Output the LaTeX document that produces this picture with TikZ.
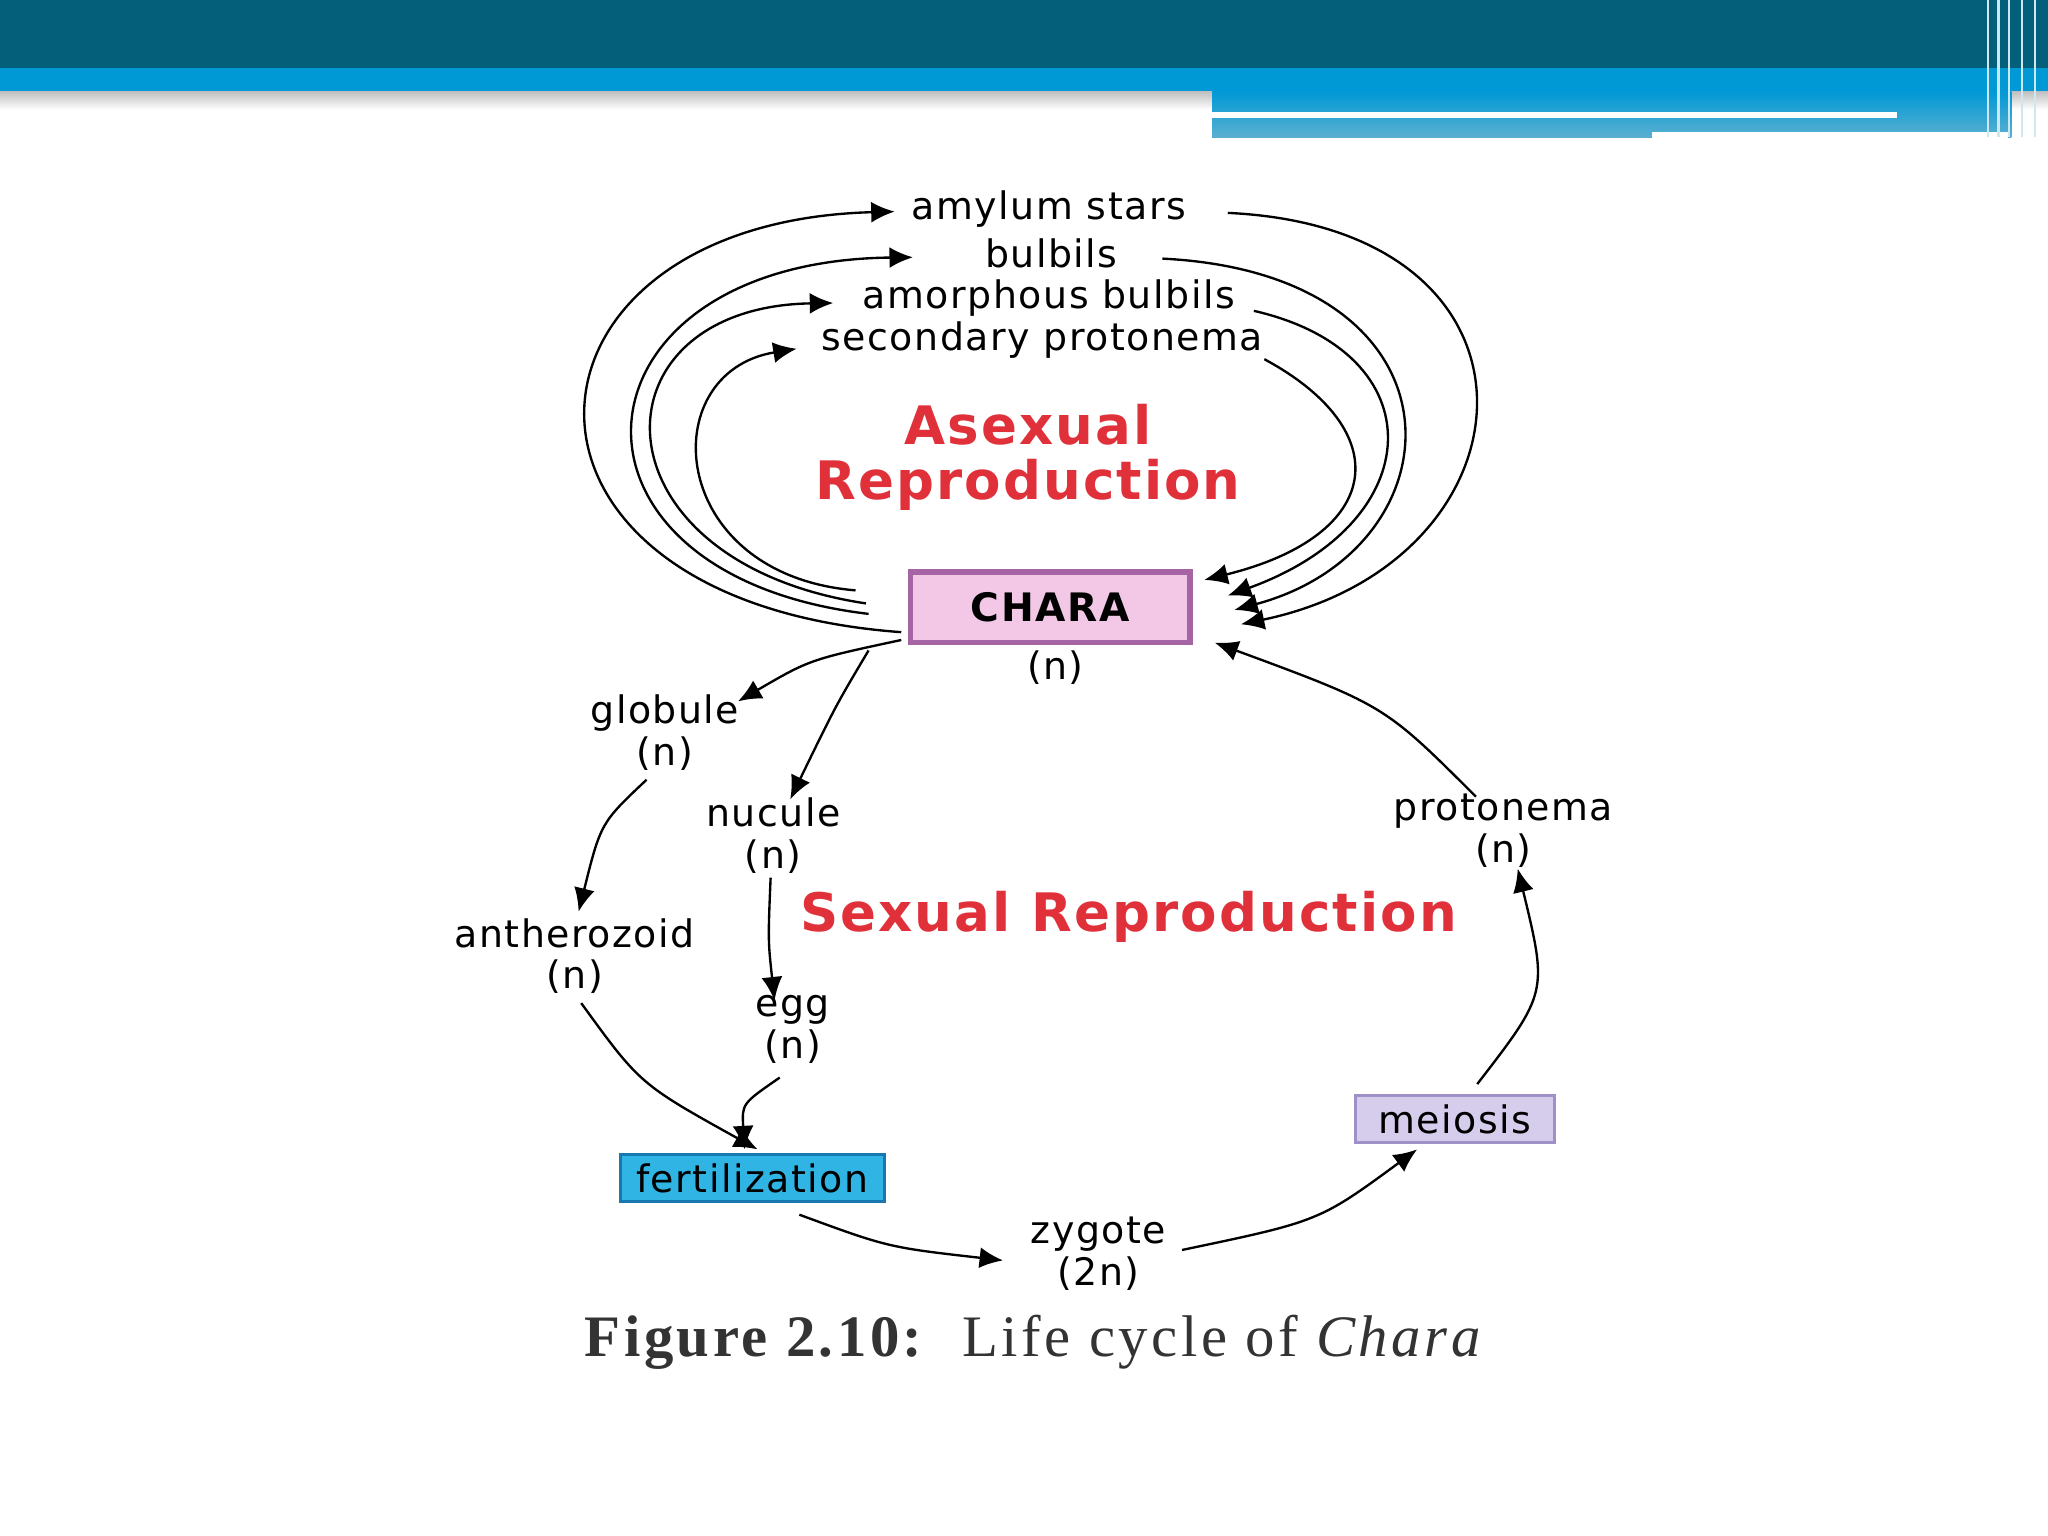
\documentclass[tikz,border=0pt]{standalone}
\usepackage{fontspec}
\setmainfont{DejaVu Sans}[LetterSpace=4]
\newfontfamily\capfont{Liberation Serif}[LetterSpace=6]
\usetikzlibrary{arrows.meta}
\definecolor{dark}{HTML}{04607A}
\definecolor{lblue}{HTML}{0099D6}
\definecolor{mblue}{HTML}{5AAFD0}
\definecolor{redt}{HTML}{E0303A}
\definecolor{chfill}{HTML}{F2C8E6}
\definecolor{chdraw}{HTML}{A565A5}
\definecolor{fefill}{HTML}{30B4E4}
\definecolor{fedraw}{HTML}{1A78B0}
\definecolor{mefill}{HTML}{D6CCEC}
\definecolor{medraw}{HTML}{A090C8}
\tikzset{
 lbl/.style={font=\fontsize{14.5}{16}\selectfont, inner sep=1pt},
 ttl/.style={font=\fontsize{20.3}{23}\selectfont\bfseries, text=redt, align=center},
 arr/.style={-{Latex[length=9pt,width=8pt]}, line width=0.9pt},
}
\begin{document}
\begin{tikzpicture}[x=0.5pt,y=-0.5pt]
\useasboundingbox (0,0) rectangle (1568,1176);
% header
\shade[top color=gray!50, bottom color=white] (0,70) rectangle (1568,84);
\fill[dark] (0,0) rectangle (1568,52);
\fill[lblue] (0,52) rectangle (1568,70);
\shade[top color=lblue, bottom color=mblue] (928,70) rectangle (1540,105);
\fill[white] (928,86) rectangle (1452,90);
\fill[white] (1265,101) rectangle (1537,106);
\foreach \x in {1522,1530,1538,1548,1558}{\draw[white!70!mblue,line width=1pt] (\x,0) -- (\x,105);}
% nodes
\node[lbl] (am) at (803,160) {amylum stars};
\node[lbl] (bu) at (805,194) {bulbils};
\node[lbl] (ab) at (803,228) {amorphous bulbils};
\node[lbl] (sp) at (798,260) {secondary protonema};
\node[ttl] (asx) at (787,350) {Asexual\\[-2pt]Reproduction};
\node[draw=chdraw, fill=chfill, line width=2.2pt, minimum width=107pt, minimum height=27pt, font=\fontsize{15}{16}\selectfont\bfseries] (ch) at (804,465) {CHARA\hspace{1.5em}};
\node[lbl] (chn) at (808,511) {(n)};
\node[lbl,align=center] (gl) at (509,561) {globule\\(n)};
\node[lbl,align=center] (nu) at (592,640) {nucule\\(n)};
\node[lbl,align=center] (an) at (440,732) {antherozoid\\(n)};
\node[lbl,align=center] (eg) at (607,788) {egg\\(n)};
\node[lbl,align=center] (zy) at (841,960) {zygote\\(2n)};
\node[lbl,align=center] (pr) at (1151,636) {protonema\\(n)};
\node[ttl] (sx) at (864,702) {Sexual Reproduction};
\node[draw=fedraw, fill=fefill, line width=1.2pt, minimum width=101pt, minimum height=18pt, font=\fontsize{14.5}{16}\selectfont] (fe) at (576,902) {fertilization};
\node[draw=medraw, fill=mefill, line width=1.2pt, minimum width=76pt, minimum height=18pt, font=\fontsize{14.5}{16}\selectfont] (me) at (1114,857) {meiosis};
\node[font=\capfont\fontsize{22.5}{25}\selectfont, text=black!80] (cap) at (792,1028) {\textbf{Figure 2.10:}\ \ Life cycle of \textit{Chara}};
% coordinates
\coordinate (l1) at (690,484); \coordinate (l2) at (665,470); \coordinate (l3) at (663,462); \coordinate (l4) at (655,452);
\coordinate (r1) at (950,478); \coordinate (r2) at (945,467); \coordinate (r3) at (940,456); \coordinate (r4) at (922,444);
\coordinate (a1) at (685,162); \coordinate (a2) at (699,197); \coordinate (a3) at (638,232); \coordinate (a4) at (610,267);
\coordinate (b1) at (940,163); \coordinate (b2) at (890,198); \coordinate (b3) at (960,238); \coordinate (b4) at (968,275);
\draw[arr] (l1) .. controls (360,460) and (380,170) .. (a1);
\draw[arr] (l2) .. controls (410,440) and (430,200) .. (a2);
\draw[arr] (l3) .. controls (450,430) and (450,235) .. (a3);
\draw[arr] (l4) .. controls (510,440) and (500,285) .. (a4);
\draw[arr] (b1) .. controls (1200,175) and (1180,430) .. (r1);
\draw[arr] (b2) .. controls (1130,210) and (1120,420) .. (r2);
\draw[arr] (b3) .. controls (1100,270) and (1095,400) .. (r3);
\draw[arr] (b4) .. controls (1070,330) and (1060,410) .. (r4);
% sexual
\coordinate (c1) at (690,490); \coordinate (g1) at (565,537);
\coordinate (c2) at (665,498); \coordinate (n1) at (605,612);
\coordinate (g2) at (495,597); \coordinate (t1) at (443,698);
\coordinate (n2) at (590,672); \coordinate (e1) at (593,766);
\coordinate (t2) at (445,768); \coordinate (f1) at (580,880);
\coordinate (e2) at (597,825); \coordinate (f2) at (570,880);
\coordinate (f3) at (612,930); \coordinate (z1) at (768,965);
\coordinate (z2) at (905,957); \coordinate (m1) at (1085,880);
\coordinate (m2) at (1131,830); \coordinate (p1) at (1162,665);
\coordinate (p2) at (1130,610); \coordinate (c3) at (930,492);
\draw[arr] (c1) .. controls (620,505) .. (g1);
\draw[arr] (c2) .. controls (640,540) .. (n1);
\draw[arr] (g2) .. controls (460,630) .. (t1);
\draw[arr] (n2) .. controls (588,720) .. (e1);
\draw[arr] (t2) .. controls (490,830) .. (f1);
\draw[arr] (e2) .. controls (568,845) .. (f2);
\draw[arr] (f3) .. controls (680,955) .. (z1);
\draw[arr] (z2) .. controls (1010,935) .. (m1);
\draw[arr] (m2) .. controls (1185,760) .. (p1);
\draw[arr] (p2) .. controls (1060,540) .. (c3);
\end{tikzpicture}
\end{document}
